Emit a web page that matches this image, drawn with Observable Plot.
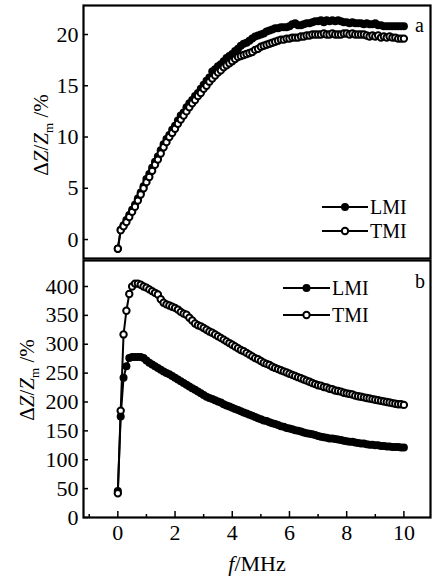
<!DOCTYPE html>
<html><head><meta charset="utf-8">
<script src="https://cdn.jsdelivr.net/npm/d3@7"></script>
<script src="https://cdn.jsdelivr.net/npm/@observablehq/plot@0.6"></script>
<style>
body{margin:0;background:#fff;}
#chart svg{display:block;}
#chart svg text{font-family:"Liberation Serif","Times New Roman",serif;}
#chart svg g[aria-label$="tick label"]{font-size:22px;}
</style></head><body><div id="chart"></div>
<script>
// frequency (MHz)
const freq = [0,0.1,0.2,0.3,0.4,0.5,0.6,0.7,0.8,0.9,
1,1.1,1.2,1.3,1.4,1.5,1.6,1.7,1.8,1.9,
2,2.1,2.2,2.3,2.4,2.5,2.6,2.7,2.8,2.9,
3,3.1,3.2,3.3,3.4,3.5,3.6,3.7,3.8,3.9,
4,4.1,4.2,4.3,4.4,4.5,4.6,4.7,4.8,4.9,
5,5.1,5.2,5.3,5.4,5.5,5.6,5.7,5.8,5.9,
6,6.1,6.2,6.3,6.4,6.5,6.6,6.7,6.8,6.9,
7,7.1,7.2,7.3,7.4,7.5,7.6,7.7,7.8,7.9,
8,8.1,8.2,8.3,8.4,8.5,8.6,8.7,8.8,8.9,
9,9.1,9.2,9.3,9.4,9.5,9.6,9.7,9.8,9.9,
10];
// panel a
const topLMI = [-0.9,0.95,1.4,1.9,2.4,2.9,3.4,4.0,4.6,5.2,
5.9,6.4,7.0,7.6,8.1,8.7,9.3,9.8,10.2,10.7,
11.1,11.6,12.1,12.4,12.9,13.3,13.6,14.0,14.3,14.7,
15.1,15.5,15.8,16.4,16.6,16.9,17.1,17.4,17.7,17.9,
18.1,18.4,18.6,18.9,19.1,19.2,19.4,19.6,19.8,19.9,
20.0,20.1,20.3,20.4,20.5,20.6,20.6,20.7,20.7,20.7,
20.8,21.0,21.1,20.9,20.9,21.0,21.1,21.1,21.2,21.3,
21.3,21.4,21.2,21.4,21.3,21.4,21.3,21.4,21.3,21.2,
21.2,21.1,21.2,21.1,21.1,21.1,21.0,21.1,21.0,21.0,
21.1,20.9,20.9,20.8,20.8,20.8,20.8,20.8,20.8,20.8,
20.8];
const topTMI = [-0.9,0.9,1.3,1.7,2.2,2.7,3.2,3.8,4.4,5.0,
5.6,6.1,6.7,7.3,7.8,8.4,9.0,9.5,10.0,10.4,
10.8,11.3,11.7,12.1,12.5,12.9,13.3,13.6,14.0,14.3,
14.7,15.0,15.4,15.7,16.0,16.3,16.5,16.8,17.0,17.2,
17.4,17.6,17.8,17.9,18.0,18.1,18.2,18.3,18.5,18.6,
18.8,18.9,19.0,19.1,19.2,19.3,19.4,19.5,19.5,19.6,
19.6,19.7,19.7,19.7,19.8,19.8,19.9,19.9,20.0,20.0,
20.0,20.0,20.1,20.0,20.0,20.1,20.0,20.0,20.0,20.1,
20.1,20.0,20.1,20.0,20.0,20.0,20.0,19.9,19.8,19.9,
19.8,19.9,19.7,19.8,19.7,19.8,19.7,19.7,19.6,19.6,
19.6];
// panel b
const botLMI = [46,175,242,262,276,278,278,278,278,276,
272,268,265,262,259,256,253,250,248,245,
242,239,236,233,230,227,224,221,218,215,
212,209,207,205,203,201,199,196,194,192,
190,188,186,184,182,180,178,176,174,172,
170,168,167,165,163,162,160,158,157,155,
154,153,151,150,149,147,146,145,144,143,
141,140,139,138,137,137,136,135,134,133,
132,131,131,130,129,128,128,127,126,126,
125,125,124,124,123,123,122,122,122,121,
121];
const botTMI = [42,185,317,358,387,400,405,405,403,400,
398,395,392,389,386,378,372,369,367,365,
363,360,356,353,351,346,341,336,333,331,
328,325,322,320,317,314,311,308,305,302,
299,296,293,290,288,285,282,279,276,274,
271,268,266,264,261,259,257,255,253,251,
249,247,245,243,241,239,237,235,233,231,
229,228,226,225,223,222,220,219,218,216,
215,214,213,211,210,209,208,207,206,205,
204,203,202,201,200,199,198,197,196,196,
195];
const yTicksTop = [0,5,10,15,20];
const yTicksBot = [0,50,100,150,200,250,300,350,400];
const xTicksMajor = [0,2,4,6,8,10];
const xTicksMinor = [-1,1,3,5,7,9];
const seriesNames = ["LMI","TMI"];
const panelLetters = ["a","b"];
const xLabel = ["f","/MHz"];

const FONT = "Liberation Serif, Times New Roman, serif";
const style = {fontFamily: FONT, fontSize: "20px", color: "black", background: "white", overflow: "visible"};
const topRows = freq.map((f,i)=>({f, lmi: topLMI[i], tmi: topTMI[i]}));
const botRows = freq.map((f,i)=>({f, lmi: botLMI[i], tmi: botTMI[i]}));

function seriesMarks(rows){
  return [
    Plot.line(rows, {x:"f", y:"lmi", stroke:"black", strokeWidth:2}),
    Plot.dot(rows, {x:"f", y:"lmi", r:4, fill:"black", stroke:"none"}),
    Plot.line(rows, {x:"f", y:"tmi", stroke:"black", strokeWidth:2}),
    Plot.dot(rows, {x:"f", y:"tmi", r:3.2, fill:"white", stroke:"black", strokeWidth:2})
  ];
}

const topSvg = Plot.plot({
  width: 432, height: 259, marginLeft: 83, marginRight: 2, marginTop: 5, marginBottom: 1,
  style,
  x: {domain: [-1.2, 10.93], axis: null},
  y: {domain: [-1.85, 22.83], axis: null},
  marks: [
    Plot.axisY(yTicksTop, {tickSize: -5, tickPadding: 10, strokeWidth: 1.5, fontSize: 22, label: null}),
    ...seriesMarks(topRows),
    Plot.frame({stroke:"black", strokeWidth:2.2})
  ]
});

const botSvg = Plot.plot({
  width: 432, height: 324, marginLeft: 83, marginRight: 2, marginTop: 1, marginBottom: 66,
  style,
  x: {domain: [-1.2, 10.93], axis: null},
  y: {domain: [0, 445], axis: null},
  marks: [
    Plot.axisY(yTicksBot, {tickSize: -5, tickPadding: 10, strokeWidth: 1.5, fontSize: 22, label: null}),
    Plot.axisX(xTicksMajor, {tickSize: -6, tickPadding: 13, strokeWidth: 1.5, fontSize: 22, label: null}),
    Plot.axisX(xTicksMinor, {tickSize: -3, strokeWidth: 1.5, fill: "none", label: null}),
    ...seriesMarks(botRows),
    Plot.frame({stroke:"black", strokeWidth:2.2})
  ]
});

function yLabel(svg, x, y){
  const t = d3.select(svg).append("text")
    .attr("transform", `translate(${x},${y}) rotate(-90)`)
    .attr("text-anchor","middle").attr("font-size", 21).attr("fill","black")
    .attr("font-family", FONT);
  t.append("tspan").text("Δ");
  t.append("tspan").attr("font-style","italic").text("Z");
  t.append("tspan").text("/");
  t.append("tspan").attr("font-style","italic").text("Z");
  t.append("tspan").attr("font-size",13).attr("dy",5).text("m");
  t.append("tspan").attr("dy",-5).text(" /%");
}
function legend(svg, x0, x1, y0, gap){
  const g = d3.select(svg).append("g");
  seriesNames.forEach((name,i)=>{
    const y = y0 + i*gap;
    g.append("line").attr("x1",x0).attr("x2",x1).attr("y1",y).attr("y2",y)
      .attr("stroke","black").attr("stroke-width",2);
    const c = g.append("circle").attr("cx",(x0+x1)/2).attr("cy",y);
    if(i===0) c.attr("r",4).attr("fill","black");
    else c.attr("r",3.2).attr("fill","white").attr("stroke","black").attr("stroke-width",2);
    g.append("text").attr("x",x1+2).attr("y",y+7).attr("font-size",20)
      .attr("text-anchor","start")
      .attr("font-family",FONT).attr("fill","black").text(name);
  });
}
function letter(svg, x, y, s){
  d3.select(svg).append("text").attr("x",x).attr("y",y).attr("font-size",20)
    .attr("text-anchor","start")
    .attr("font-family",FONT).attr("fill","black").text(s);
}

yLabel(topSvg, 48, 135);
legend(topSvg, 322, 368, 207, 24);
letter(topSvg, 415, 32, panelLetters[0]);

yLabel(botSvg, 34, 121);
legend(botSvg, 283, 330, 29, 27);
letter(botSvg, 415, 29, panelLetters[1]);
const xl = d3.select(botSvg).append("text").attr("x",257).attr("y",312)
  .attr("text-anchor","middle").attr("font-size",22).attr("font-family",FONT).attr("fill","black");
xl.append("tspan").attr("font-style","italic").text(xLabel[0]);
xl.append("tspan").text(xLabel[1]);

document.getElementById("chart").append(topSvg, botSvg);
</script>
</body></html>
